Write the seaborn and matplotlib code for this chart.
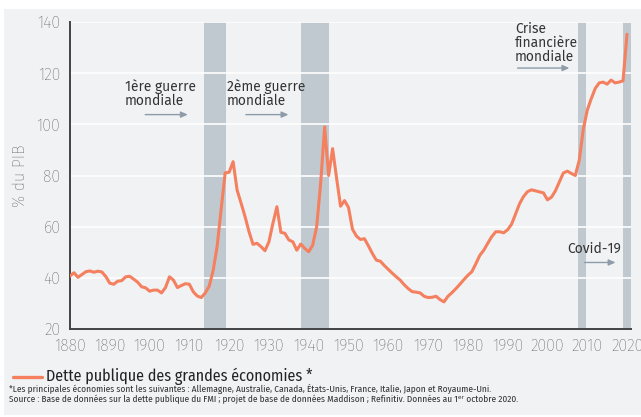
import numpy as np
import pandas as pd
import matplotlib
matplotlib.use("Agg")
import matplotlib.pyplot as plt
import seaborn as sns
from matplotlib.patches import Rectangle

# data: public debt of major economies, % of GDP
years = list(range(1880, 2021))
debt = [40.7, 42.0, 40.2, 41.3, 42.4, 42.7, 42.2, 42.6, 42.3, 40.5,
        37.9, 37.5, 38.7, 38.9, 40.4, 40.6, 39.5, 38.3, 36.5, 36.1,
        34.8, 35.2, 35.2, 34.1, 36.2, 40.4, 39.1, 36.2, 37.0, 37.7,
        37.5, 34.5, 32.9, 32.3, 34.1, 36.8, 43.0, 52.5, 67.0, 81.0,
        81.3, 85.4, 74.3, 69.2, 63.9, 58.0, 53.1, 53.5, 52.2, 50.6,
        54.1, 61.3, 67.8, 57.8, 57.4, 54.8, 54.1, 50.8, 53.2, 51.5,
        50.2, 52.8, 60.0, 77.0, 99.0, 80.0, 90.5, 79.0, 68.0, 70.2,
        67.5, 59.0, 56.3, 55.0, 55.3, 52.5, 49.5, 46.9, 46.5, 44.8,
        43.3, 41.8, 40.4, 39.1, 37.3, 35.8, 34.6, 34.4, 34.1, 32.8,
        32.3, 32.4, 32.8, 31.5, 30.6, 32.8, 34.2, 35.8, 37.5, 39.3,
        41.0, 42.4, 45.5, 48.8, 50.8, 53.5, 56.1, 58.0, 58.0, 57.6,
        58.8, 61.0, 65.0, 69.0, 71.8, 73.7, 74.4, 74.0, 73.6, 73.2,
        70.5, 71.5, 74.0, 77.5, 81.0, 81.7, 80.8, 80.0, 86.0, 98.0,
        105.5, 110.0, 114.0, 116.2, 116.5, 115.7, 117.3, 116.2, 116.5, 117.0,
        135.2]

crisis_start = [1913.8, 1938.0, 2007.6, 2018.9]
crisis_end = [1919.2, 1945.1, 2009.6, 2021.0]

df = pd.DataFrame({"Année": years, "Dette": debt})

line_col = "#f4805f"
band_col = "#c1c9d0"
panel_col = "#f0f2f4"
text_col = "#333333"
arrow_col = "#8d9ca8"

sns.set_style("white")
plt.rcParams["font.family"] = ["Fira Sans", "DejaVu Sans"]

fig = plt.figure(figsize=(6.41, 4.17), dpi=100)
fig.patch.set_facecolor("white")
fig.patches.append(Rectangle((4 / 641, 0.005), 1, 1 - 9 / 417 - 0.005,
                             transform=fig.transFigure, facecolor=panel_col,
                             edgecolor="none", zorder=-10))

ax = fig.add_axes([70 / 641, 88 / 417, (631 - 70) / 641, (329 - 22) / 417])
ax.set_facecolor(panel_col)

for s, e in zip(crisis_start, crisis_end):
    ax.axvspan(s, e, color=band_col, lw=0, zorder=1)

for yv in range(40, 141, 20):
    ax.axhline(yv, color="white", lw=1.2, zorder=2)

sns.lineplot(data=df, x="Année", y="Dette", ax=ax, color=line_col, lw=2.2,
             zorder=3, legend=False)

ax.set_xlim(1880, 2021)
ax.set_ylim(20, 140)
ax.set_xticks(range(1880, 2021, 10))
ax.set_yticks(range(20, 141, 20))
ax.tick_params(axis="both", labelsize=11.5, colors="#444444", length=5,
               width=1.2, direction="out", pad=2)
for lab in ax.get_xticklabels() + ax.get_yticklabels():
    lab.set_fontweight("light")
for side in ["top", "right"]:
    ax.spines[side].set_visible(False)
for side in ["left", "bottom"]:
    ax.spines[side].set_color("#444444")
    ax.spines[side].set_linewidth(1.4)
ax.set_xlabel("")
ax.set_ylabel("% du PIB", fontsize=11.5, color="#444444", labelpad=6,
              fontweight="light")

# annotations
ann_kw = dict(fontsize=10, color=text_col, va="top", ha="left",
              linespacing=1.0, zorder=4)
arr_kw = dict(arrowstyle="-|>,head_length=0.4,head_width=0.18",
              color=arrow_col, lw=1.0)
ax.text(1893.8, 117.6, "1ère guerre\nmondiale", **ann_kw)
ax.annotate("", xy=(1910.3, 103.8), xytext=(1898.2, 103.8), arrowprops=arr_kw)
ax.text(1919.4, 117.6, "2ème guerre\nmondiale", **ann_kw)
ax.annotate("", xy=(1935.6, 103.8), xytext=(1923.5, 103.8), arrowprops=arr_kw)
ax.text(1991.8, 140.2, "Crise\nfinancière\nmondiale", **ann_kw)
ax.annotate("", xy=(2006.2, 122.0), xytext=(1991.8, 122.0), arrowprops=arr_kw)
ax.text(2004.9, 54.0, "Covid-19", **ann_kw)
ax.annotate("", xy=(2017.8, 46.0), xytext=(2008.6, 46.0), arrowprops=arr_kw)

# legend and notes
cond = ["Fira Sans Condensed", "DejaVu Sans"]
fig.lines.append(plt.Line2D([13 / 641, 42 / 641], [1 - 377 / 417] * 2,
                            transform=fig.transFigure, color=line_col, lw=2.4))
fig.text(46 / 641, 1 - 376 / 417, "Dette publique des grandes économies *",
         fontsize=11.5, color="#222222", va="center", ha="left", family=cond)
fig.text(9 / 641, 1 - 388.5 / 417,
         "*Les principales économies sont les suivantes : Allemagne, Australie, "
         "Canada, États-Unis, France, Italie, Japon et Royaume-Uni.",
         fontsize=6.7, color=text_col, va="center", ha="left", family=cond)
fig.text(9 / 641, 1 - 399.5 / 417,
         "Source : Base de données sur la dette publique du FMI ; projet de base "
         "de données Maddison ; Refinitiv. Données au 1ᵉʳ octobre 2020.",
         fontsize=6.7, color=text_col, va="center", ha="left", family=cond)

fig.savefig("out.png", dpi=100, facecolor=fig.get_facecolor())
